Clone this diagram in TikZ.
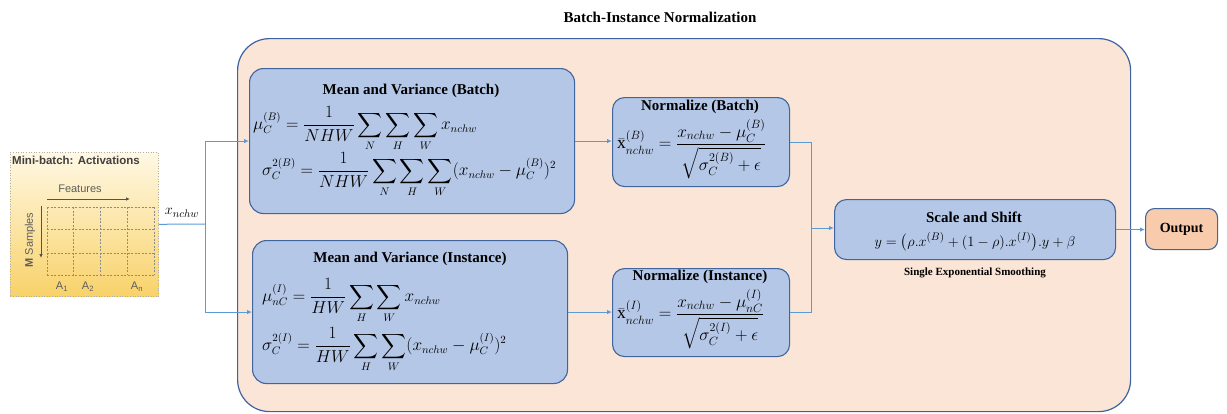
\documentclass[tikz,border=0pt]{standalone}
\usepackage{fontspec}
\setmainfont{Liberation Serif}
\newfontfamily\arialf{Liberation Sans}
\usepackage{amsmath}
\usetikzlibrary{arrows.meta,calc}
\definecolor{boxfill}{HTML}{B4C7E7}
\definecolor{boxborder}{HTML}{41659E}
\definecolor{connblue}{HTML}{5B9BD5}
\definecolor{bigfill}{HTML}{FBE5D6}
\definecolor{bigborder}{HTML}{3F62A0}
\definecolor{outfill}{HTML}{F8CBAD}
\definecolor{mbtop}{HTML}{FFF8E4}
\definecolor{mbbot}{HTML}{F8D26A}
\definecolor{mbtext}{HTML}{404040}
\definecolor{mbgrid}{HTML}{8C8C8C}
\tikzset{
  box/.style={draw=boxborder, fill=boxfill, rounded corners=14pt, line width=1.1pt, anchor=north west, inner sep=0pt},
  conn/.style={draw=connblue, line width=1pt},
  arr/.style={conn, -{Latex[length=5pt,width=4.5pt]}},
  ttl/.style={font=\fontsize{15}{17}\selectfont\bfseries, inner sep=0pt},
  eq/.style={font=\fontsize{16}{18}\selectfont, inner sep=0pt, anchor=west},
  neq/.style={font=\fontsize{17.5}{19}\selectfont, inner sep=0pt, anchor=west},
  grid/.style={draw=mbgrid, dashed, line width=0.6pt, dash pattern=on 2pt off 1.5pt},
  mbfont/.style={font=\arialf\fontsize{11}{13}\selectfont, text=mbtext!85, inner sep=0pt},
}
\begin{document}
\begin{tikzpicture}[x=1pt,y=-1pt]
\useasboundingbox (0,0) rectangle (1227,413);
% title
\node[ttl] (title) at (660,17) {Batch-Instance Normalization};
% big container
\node[draw=bigborder, fill=bigfill, rounded corners=32pt, line width=1.2pt, minimum width=893pt, minimum height=373pt, anchor=north west, inner sep=0pt] (big) at (237,38) {};
% mini-batch panel
\node[draw=mbgrid!70, dotted, line width=0.6pt, top color=mbtop, bottom color=mbbot, minimum width=148pt, minimum height=144pt, anchor=north west, inner sep=0pt] (mb) at (10,152) {};
\node[font=\arialf\fontsize{11.5}{13}\selectfont\bfseries, text=mbtext, anchor=west, inner sep=0pt] (mbt) at (12,160) {Mini-batch: Activations};
\node[mbfont] (feat) at (80,189) {Features};
\draw[draw=mbtext!90, line width=0.8pt, -{Latex[length=4pt,width=3.5pt]}] (47,199) -- (130,199);
\node[mbfont, rotate=90] (samp) at (30,240) {\textbf{M} Samples};
\draw[draw=mbtext!90, line width=0.8pt, -{Latex[length=4pt,width=3.5pt]}] (41,206) -- (41,258);
\foreach \xx in {47,73,100,127,154} \draw[grid] (\xx,207) -- (\xx,275);
\foreach \yy in {207,229,253,275} \draw[grid] (47,\yy) -- (154,\yy);
\node[mbfont] (a1) at (62,287) {A\textsubscript{1}};
\node[mbfont] (a2) at (88,287) {A\textsubscript{2}};
\node[mbfont] (an) at (137,287) {A\textsubscript{n}};
% boxes
\node[box, minimum width=325pt, minimum height=145pt] (mvb) at (249,68) {};
\node[box, minimum width=315pt, minimum height=143pt] (mvi) at (252,240) {};
\node[box, minimum width=177pt, minimum height=89pt, rounded corners=12pt] (nb) at (612,97) {};
\node[box, minimum width=177pt, minimum height=88pt, rounded corners=12pt] (ni) at (612,268) {};
\node[box, minimum width=281pt, minimum height=60pt, rounded corners=12pt] (ss) at (834,199) {};
\node[box, fill=outfill, minimum width=72pt, minimum height=41pt, rounded corners=9pt] (out) at (1145,208) {};
% box texts
\node[ttl] (mvbt) at (411,91) {Mean and Variance (Batch)};
\node[eq] (mvbe1) at (253,129) {$\mu_C^{(B)} = \dfrac{1}{NHW}\displaystyle\sum_N\sum_H\sum_W x_{nchw}$};
\node[eq] (mvbe2) at (262,175) {$\sigma_C^{2(B)} = \dfrac{1}{NHW}\displaystyle\sum_N\sum_H\sum_W (x_{nchw}-\mu_C^{(B)})^2$};
\node[ttl] (mvit) at (410,259) {Mean and Variance (Instance)};
\node[eq] (mvie1) at (262,301) {$\mu_{nC}^{(I)} = \dfrac{1}{HW}\displaystyle\sum_H\sum_W x_{nchw}$};
\node[eq] (mvie2) at (262,350) {$\sigma_C^{2(I)} = \dfrac{1}{HW}\displaystyle\sum_H\sum_W (x_{nchw}-\mu_C^{(I)})^2$};
\node[ttl] (nbt) at (700,107) {Normalize (Batch)};
\node[neq] (nbe) at (617,149) {$\bar{\mathrm{x}}_{nchw}^{(B)} = \dfrac{x_{nchw}-\mu_C^{(B)}}{\sqrt{\sigma_C^{2(B)}+\epsilon}}$};
\node[ttl] (nit) at (700,277) {Normalize (Instance)};
\node[neq] (nie) at (617,319) {$\bar{\mathrm{x}}_{nchw}^{(I)} = \dfrac{x_{nchw}-\mu_{nC}^{(I)}}{\sqrt{\sigma_C^{2(I)}+\epsilon}}$};
\node[ttl] (sst) at (974,217) {Scale and Shift};
\node[eq, font=\fontsize{15}{17}\selectfont, anchor=center] (sse) at (975,242) {$y = \bigl(\rho.x^{(B)} + (1-\rho).x^{(I)}\bigr).y + \beta$};
\node[font=\fontsize{11}{13}\selectfont\bfseries, inner sep=0pt] (ses) at (975,273) {Single Exponential Smoothing};
\node[ttl, font=\fontsize{14}{16}\selectfont\bfseries] (outt) at (out.center) {Output};
% connectors
\coordinate (split) at (205,224);
\coordinate (merge) at (811,228);
\draw[conn] (mb.east) -- (split);
\node[font=\fontsize{15}{17}\selectfont, inner sep=0pt] (xl) at (182,213) {$x_{nchw}$};
\draw[arr] (split) |- (mvb.west);
\draw[arr] (split) |- (mvi.west);
\draw[arr] (mvb.east) -- (mvb.east -| nb.west);
\draw[arr] (mvi.east) -- (mvi.east -| ni.west);
\draw[conn] (nb.east) -| (merge);
\draw[conn] (ni.east) -| (merge);
\draw[arr] (merge) -- (merge -| ss.west);
\draw[arr] (ss.east) -- (ss.east -| out.west);
\end{tikzpicture}
\end{document}
